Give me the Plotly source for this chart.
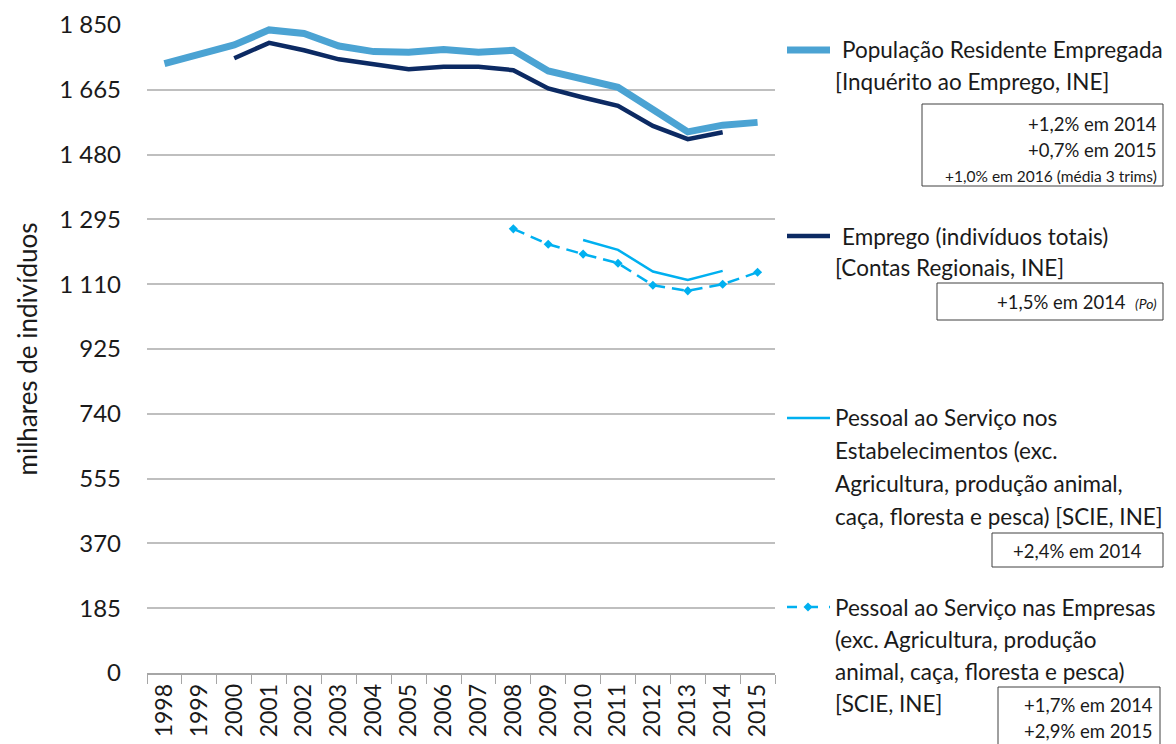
import plotly.graph_objects as go

# data (milhares de indivíduos)
anos = [str(a) for a in range(1998, 2016)]

pop_residente = [1740, 1764, 1793, 1836, 1826, 1790, 1774, 1772, 1780, 1772,
                 1778, 1719, 1696, 1672, 1609, 1545, 1564, 1572]

emprego_anos = [str(a) for a in range(2000, 2015)]
emprego = [1755, 1799, 1778, 1752, 1738, 1724, 1731, 1731, 1721, 1669,
           1643, 1619, 1562, 1524, 1544]

estab_anos = ["2010", "2011", "2012", "2013", "2014"]
estabelecimentos = [1236, 1208, 1146, 1122, 1148]

empresas_anos = [str(a) for a in range(2008, 2016)]
empresas = [1268, 1224, 1196, 1170, 1107, 1091, 1110, 1144]

y_ticks = [0, 185, 370, 555, 740, 925, 1110, 1295, 1480, 1665, 1850]
y_ticktext = ["0", "185", "370", "555", "740", "925", "1 110", "1 295", "1 480", "1 665", "1 850"]

c_light = "#4BA3D3"
c_navy = "#0C2A63"
c_bright = "#00B0F0"
FONT = "Lato"

fig = go.Figure()
fig.add_trace(go.Scatter(x=emprego_anos, y=emprego, mode="lines",
                         line=dict(color=c_navy, width=4.5)))
fig.add_trace(go.Scatter(x=anos, y=pop_residente, mode="lines",
                         line=dict(color=c_light, width=7)))
fig.add_trace(go.Scatter(x=estab_anos, y=estabelecimentos, mode="lines",
                         line=dict(color=c_bright, width=2.5)))
fig.add_trace(go.Scatter(x=empresas_anos, y=empresas, mode="lines+markers",
                         line=dict(color=c_bright, width=2.5, dash="12px,7px"),
                         marker=dict(symbol="diamond", size=7, color=c_bright)))

# plot area in screen pixels: x 147..775, y 25..673 (page body adds an 8px offset)
OFF = 8
L, R, T, B = 147, 775, 25, 673


def px(x):
    return (x - L) / (R - L)


def py(y):
    return (B - y) / (B - T)


anns = []
shapes = []


def text(x, y, s, size=22.5, anchor="left"):
    anns.append(dict(x=px(x), y=py(y), xref="paper", yref="paper", text=s,
                     showarrow=False, xanchor=anchor, yanchor="middle",
                     font=dict(family=FONT, size=size, color="#1a1a1a")))


def box(x0, y0, x1, y1):
    shapes.append(dict(type="rect", xref="paper", yref="paper",
                       x0=px(x0), x1=px(x1), y0=py(y0), y1=py(y1),
                       line=dict(color="#404040", width=1)))


def sample(y, color, width, dash="solid"):
    shapes.append(dict(type="line", xref="paper", yref="paper",
                       x0=px(787), x1=px(830), y0=py(y), y1=py(y),
                       line=dict(color=color, width=width, dash=dash)))


# legend 1
sample(50, c_light, 7)
text(840, 50, "População Residente Empregada")
text(833, 81, "[Inquérito ao Emprego, INE]")
box(922, 104, 1163, 186)
text(1159, 124, "+1,2% em 2014", 18.5, "right")
text(1159, 150, "+0,7% em 2015", 18.5, "right")
text(1159, 176, "+1,0% em 2016 (média 3 trims)", 15.5, "right")

# legend 2
sample(236, c_navy, 4.5)
text(840, 236, "Emprego (indivíduos totais)")
text(833, 267, "[Contas Regionais, INE]")
box(937, 283, 1163, 320)
text(1159, 302, "+1,5% em 2014  <i><span style='font-size:14px'>(Po)</span></i>", 18.5, "right")

# legend 3
sample(418, c_bright, 2.5)
for i, s in enumerate(["Pessoal ao Serviço nos", "Estabelecimentos (exc.",
                       "Agricultura, produção animal,", "caça, floresta e pesca) [SCIE, INE]"]):
    text(833, 418 + i * 32.7, s)
box(992, 533, 1163, 567)
text(1077, 551, "+2,4% em 2014", 18.5, "center")

# legend 4
sample(607, c_bright, 2.5, "10px,11px")
cx, cy, d = 808, 607, 4.5
shapes.append(dict(type="path", xref="paper", yref="paper",
                   path=f"M {px(cx - d)},{py(cy)} L {px(cx)},{py(cy - d)} L {px(cx + d)},{py(cy)} L {px(cx)},{py(cy + d)} Z",
                   fillcolor=c_bright, line=dict(color=c_bright, width=0)))
for i, s in enumerate(["Pessoal ao Serviço nas Empresas", "(exc. Agricultura, produção",
                       "animal, caça, floresta e pesca)", "[SCIE, INE]"]):
    text(833, 607 + i * 32.3, s)
box(998, 687, 1160, 760)
text(1155, 705, "+1,7% em 2014", 18.5, "right")
text(1155, 731, "+2,9% em 2015", 18.5, "right")

fig.update_layout(
    width=1176 - OFF, height=744 - OFF,
    margin=dict(l=L - OFF, r=1176 - R, t=T - OFF, b=744 - B),
    plot_bgcolor="white", paper_bgcolor="white",
    showlegend=False,
    font=dict(family=FONT, size=20, color="#1a1a1a"),
    annotations=anns, shapes=shapes,
)
fig.update_xaxes(type="category", categoryorder="array", categoryarray=anos,
                 tickangle=-90, tickson="boundaries", ticks="outside", ticklen=9,
                 tickcolor="#a6a6a6", showline=True, linecolor="#a6a6a6", linewidth=1.5,
                 showgrid=False, tickfont=dict(size=23), range=[-0.5, 17.5],
                 automargin=False)
fig.update_yaxes(range=[0, 1850], tickvals=y_ticks, ticktext=y_ticktext,
                 showgrid=True, gridcolor="#bfbfbf", gridwidth=1.5, zeroline=False,
                 tickfont=dict(size=24), ticklabelstandoff=25, automargin=False,
                 title=dict(text="milhares de indivíduos", font=dict(size=26), standoff=14))

fig.write_html("out.html")
